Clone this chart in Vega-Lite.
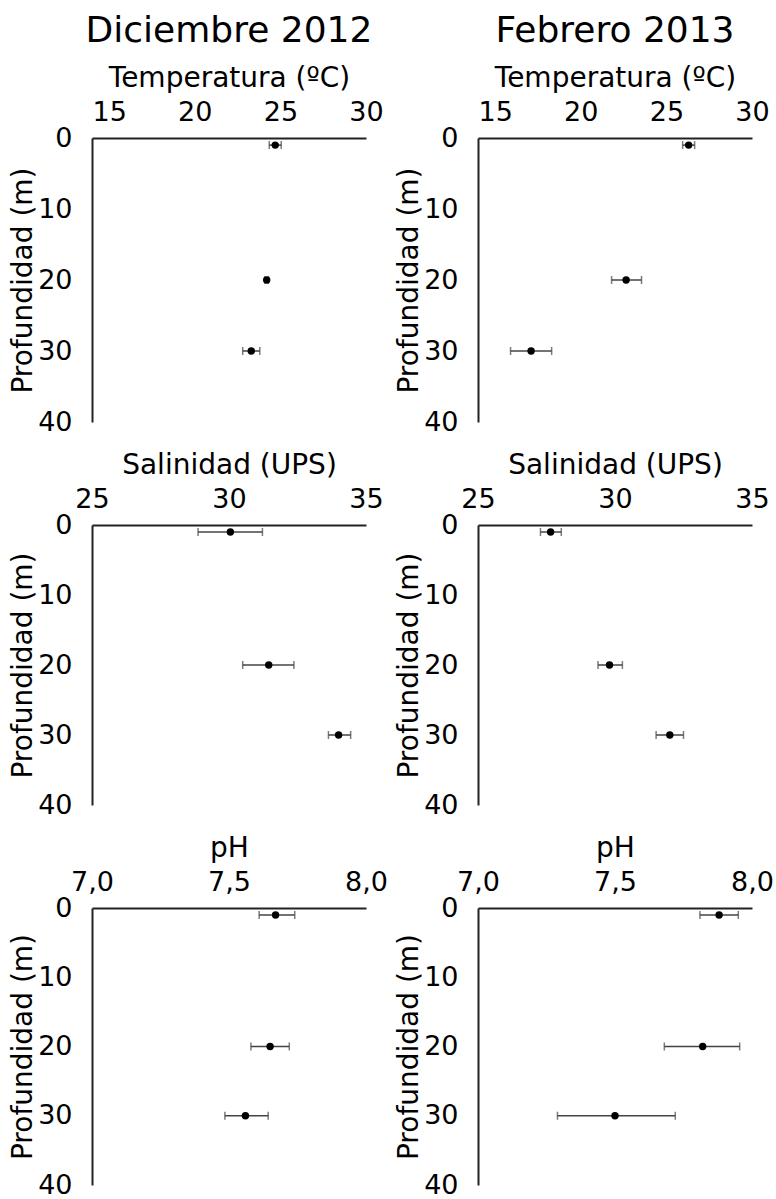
{
  "$schema": "https://vega.github.io/schema/vega-lite/v6.json",
  "padding": {"left": 9, "top": 13, "right": 0, "bottom": 0},
  "background": "white",
  "config": {
    "view": {"stroke": null},
    "font": "DejaVu Sans",
    "axis": {
      "domainColor": "#222222",
      "domainWidth": 2,
      "ticks": false,
      "tickSize": 0,
      "grid": false,
      "labelFont": "DejaVu Sans",
      "labelFontSize": 27,
      "labelColor": "#000000",
      "titleFont": "DejaVu Sans",
      "titleFontSize": 28,
      "titleFontWeight": "normal",
      "titleColor": "#000000"
    },
    "axisX": {"labelPadding": 12, "titlePadding": 6, "labelFlush": false},
    "axisY": {"labelPadding": 20, "titlePadding": 0},
    "title": {"font": "DejaVu Sans", "fontSize": 36, "fontWeight": "normal", "color": "#000000", "anchor": "middle", "frame": "group", "offset": 14}
  },
  "data": {
    "values": [
      {"mes": "Dic", "var": "T", "prof": 1, "val": 24.7, "lo": 24.35, "hi": 25.05},
      {"mes": "Dic", "var": "T", "prof": 20, "val": 24.2, "lo": 24.1, "hi": 24.3},
      {"mes": "Dic", "var": "T", "prof": 30, "val": 23.3, "lo": 22.8, "hi": 23.8},
      {"mes": "Feb", "var": "T", "prof": 1, "val": 26.3, "lo": 25.95, "hi": 26.65},
      {"mes": "Feb", "var": "T", "prof": 20, "val": 22.65, "lo": 21.8, "hi": 23.55},
      {"mes": "Feb", "var": "T", "prof": 30, "val": 17.1, "lo": 15.9, "hi": 18.3},
      {"mes": "Dic", "var": "S", "prof": 1, "val": 30.05, "lo": 28.87, "hi": 31.22},
      {"mes": "Dic", "var": "S", "prof": 20, "val": 31.45, "lo": 30.5, "hi": 32.37},
      {"mes": "Dic", "var": "S", "prof": 30, "val": 34.0, "lo": 33.63, "hi": 34.44},
      {"mes": "Feb", "var": "S", "prof": 1, "val": 27.65, "lo": 27.28, "hi": 28.04},
      {"mes": "Feb", "var": "S", "prof": 20, "val": 29.8, "lo": 29.38, "hi": 30.27},
      {"mes": "Feb", "var": "S", "prof": 30, "val": 32.0, "lo": 31.5, "hi": 32.5},
      {"mes": "Dic", "var": "pH", "prof": 1, "val": 7.67, "lo": 7.61, "hi": 7.74},
      {"mes": "Dic", "var": "pH", "prof": 20, "val": 7.65, "lo": 7.58, "hi": 7.72},
      {"mes": "Dic", "var": "pH", "prof": 30, "val": 7.56, "lo": 7.485, "hi": 7.643},
      {"mes": "Feb", "var": "pH", "prof": 1, "val": 7.88, "lo": 7.81, "hi": 7.95},
      {"mes": "Feb", "var": "pH", "prof": 20, "val": 7.82, "lo": 7.68, "hi": 7.955},
      {"mes": "Feb", "var": "pH", "prof": 30, "val": 7.5, "lo": 7.29, "hi": 7.72}
    ]
  },
  "columns": 2,
  "bounds": "flush",
  "spacing": {"row": 103, "column": 112},
  "concat": [
    {
      "title": "Diciembre 2012",
      "width": 274, "height": 284,
      "transform": [{"filter": "datum.mes == 'Dic' && datum.var == 'T'"}],
      "layer": [
        {"mark": {"type": "errorbar", "ticks": {"size": 8}, "color": "#444444", "thickness": 1.5},
         "encoding": {
           "x": {"field": "lo", "type": "quantitative", "scale": {"domain": [15, 30]}, "axis": {"orient": "top", "title": "Temperatura (ºC)", "values": [15, 20, 25, 30]}},
           "x2": {"field": "hi"},
           "y": {"field": "prof", "type": "quantitative", "scale": {"domain": [0, 40], "reverse": true}, "axis": {"title": "Profundidad (m)", "values": [0, 10, 20, 30, 40]}}}},
        {"mark": {"type": "point", "filled": true, "size": 55, "color": "#000000", "opacity": 1},
         "encoding": {"x": {"field": "val", "type": "quantitative"}, "y": {"field": "prof", "type": "quantitative"}}}
      ]
    },
    {
      "title": "Febrero 2013",
      "width": 274, "height": 284,
      "transform": [{"filter": "datum.mes == 'Feb' && datum.var == 'T'"}],
      "layer": [
        {"mark": {"type": "errorbar", "ticks": {"size": 8}, "color": "#444444", "thickness": 1.5},
         "encoding": {
           "x": {"field": "lo", "type": "quantitative", "scale": {"domain": [15, 30]}, "axis": {"orient": "top", "title": "Temperatura (ºC)", "values": [15, 20, 25, 30]}},
           "x2": {"field": "hi"},
           "y": {"field": "prof", "type": "quantitative", "scale": {"domain": [0, 40], "reverse": true}, "axis": {"title": "Profundidad (m)", "values": [0, 10, 20, 30, 40]}}}},
        {"mark": {"type": "point", "filled": true, "size": 55, "color": "#000000", "opacity": 1},
         "encoding": {"x": {"field": "val", "type": "quantitative"}, "y": {"field": "prof", "type": "quantitative"}}}
      ]
    },
    {
      "width": 274, "height": 280,
      "transform": [{"filter": "datum.mes == 'Dic' && datum.var == 'S'"}],
      "layer": [
        {"mark": {"type": "errorbar", "ticks": {"size": 8}, "color": "#444444", "thickness": 1.5},
         "encoding": {
           "x": {"field": "lo", "type": "quantitative", "scale": {"domain": [25, 35]}, "axis": {"orient": "top", "title": "Salinidad (UPS)", "values": [25, 30, 35]}},
           "x2": {"field": "hi"},
           "y": {"field": "prof", "type": "quantitative", "scale": {"domain": [0, 40], "reverse": true}, "axis": {"title": "Profundidad (m)", "values": [0, 10, 20, 30, 40]}}}},
        {"mark": {"type": "point", "filled": true, "size": 55, "color": "#000000", "opacity": 1},
         "encoding": {"x": {"field": "val", "type": "quantitative"}, "y": {"field": "prof", "type": "quantitative"}}}
      ]
    },
    {
      "width": 274, "height": 280,
      "transform": [{"filter": "datum.mes == 'Feb' && datum.var == 'S'"}],
      "layer": [
        {"mark": {"type": "errorbar", "ticks": {"size": 8}, "color": "#444444", "thickness": 1.5},
         "encoding": {
           "x": {"field": "lo", "type": "quantitative", "scale": {"domain": [25, 35]}, "axis": {"orient": "top", "title": "Salinidad (UPS)", "values": [25, 30, 35]}},
           "x2": {"field": "hi"},
           "y": {"field": "prof", "type": "quantitative", "scale": {"domain": [0, 40], "reverse": true}, "axis": {"title": "Profundidad (m)", "values": [0, 10, 20, 30, 40]}}}},
        {"mark": {"type": "point", "filled": true, "size": 55, "color": "#000000", "opacity": 1},
         "encoding": {"x": {"field": "val", "type": "quantitative"}, "y": {"field": "prof", "type": "quantitative"}}}
      ]
    },
    {
      "width": 274, "height": 277,
      "transform": [{"filter": "datum.mes == 'Dic' && datum.var == 'pH'"}],
      "layer": [
        {"mark": {"type": "errorbar", "ticks": {"size": 8}, "color": "#444444", "thickness": 1.5},
         "encoding": {
           "x": {"field": "lo", "type": "quantitative", "scale": {"domain": [7, 8]}, "axis": {"orient": "top", "title": "pH", "values": [7, 7.5, 8], "labelExpr": "replace(format(datum.value, '.1f'), '.', ',')"}},
           "x2": {"field": "hi"},
           "y": {"field": "prof", "type": "quantitative", "scale": {"domain": [0, 40], "reverse": true}, "axis": {"title": "Profundidad (m)", "values": [0, 10, 20, 30, 40]}}}},
        {"mark": {"type": "point", "filled": true, "size": 55, "color": "#000000", "opacity": 1},
         "encoding": {"x": {"field": "val", "type": "quantitative"}, "y": {"field": "prof", "type": "quantitative"}}}
      ]
    },
    {
      "width": 274, "height": 277,
      "transform": [{"filter": "datum.mes == 'Feb' && datum.var == 'pH'"}],
      "layer": [
        {"mark": {"type": "errorbar", "ticks": {"size": 8}, "color": "#444444", "thickness": 1.5},
         "encoding": {
           "x": {"field": "lo", "type": "quantitative", "scale": {"domain": [7, 8]}, "axis": {"orient": "top", "title": "pH", "values": [7, 7.5, 8], "labelExpr": "replace(format(datum.value, '.1f'), '.', ',')"}},
           "x2": {"field": "hi"},
           "y": {"field": "prof", "type": "quantitative", "scale": {"domain": [0, 40], "reverse": true}, "axis": {"title": "Profundidad (m)", "values": [0, 10, 20, 30, 40]}}}},
        {"mark": {"type": "point", "filled": true, "size": 55, "color": "#000000", "opacity": 1},
         "encoding": {"x": {"field": "val", "type": "quantitative"}, "y": {"field": "prof", "type": "quantitative"}}}
      ]
    }
  ]
}
